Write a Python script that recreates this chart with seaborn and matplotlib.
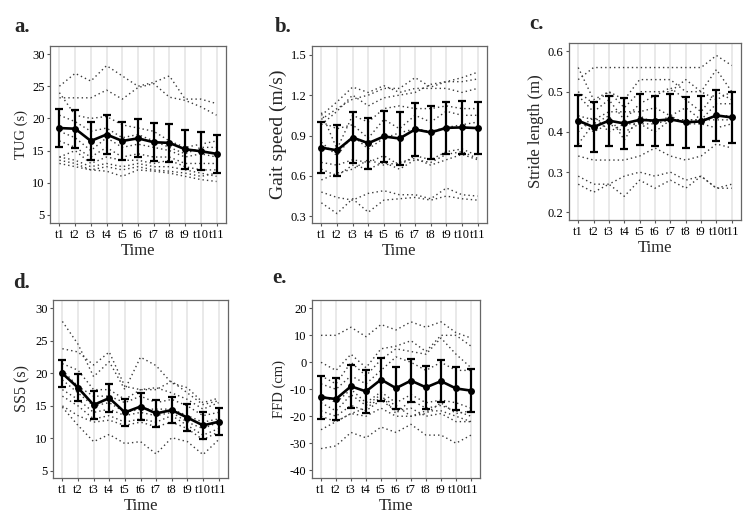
import pandas as pd
import matplotlib.pyplot as plt
import seaborn as sns

time_labels = ['t1', 't2', 't3', 't4', 't5', 't6', 't7', 't8', 't9', 't10', 't11']

# a. TUG (s)
tug_subjects = [
    [25.0, 27.0, 25.8, 28.2, 26.6, 25.0, 25.6, 26.6, 23.0, 23.0, 22.3],
    [23.2, 23.2, 23.2, 24.4, 23.0, 24.8, 25.4, 23.3, 22.8, 21.8, 20.5],
    [24.0, 20.5, 20.0, 20.3, 19.0, 18.5, 18.0, 16.5, 15.5, 16.0, 16.5],
    [20.5, 19.5, 18.0, 18.5, 17.0, 17.5, 16.5, 15.5, 14.5, 15.5, 15.5],
    [18.0, 17.0, 15.0, 17.0, 15.5, 16.0, 15.5, 15.0, 14.0, 14.5, 14.0],
    [16.5, 15.5, 14.0, 15.5, 14.0, 14.5, 14.0, 14.0, 13.0, 13.0, 13.0],
    [14.0, 15.0, 13.0, 14.0, 13.5, 13.5, 13.0, 13.5, 12.5, 12.0, 12.0],
    [14.0, 13.5, 12.5, 13.0, 12.5, 13.0, 12.5, 12.5, 12.0, 11.5, 11.0],
    [13.5, 13.0, 12.0, 12.5, 12.0, 12.5, 12.0, 11.8, 11.5, 11.0, 11.5],
    [13.0, 12.5, 12.0, 11.8, 11.0, 12.0, 11.8, 11.5, 11.0, 10.5, 10.2],
]
tug_mean = [18.5, 18.4, 16.5, 17.5, 16.5, 16.9, 16.3, 16.2, 15.2, 14.9, 14.5]
tug_sd = [3.0, 2.95, 3.0, 3.0, 2.95, 2.95, 2.95, 3.0, 3.0, 2.95, 2.95]

# b. Gait speed (m/s)
gait_subjects = [
    [1.02, 1.10, 1.17, 1.20, 1.25, 1.25, 1.33, 1.26, 1.30, 1.33, 1.37],
    [1.05, 1.15, 1.26, 1.22, 1.27, 1.22, 1.25, 1.25, 1.25, 1.22, 1.25],
    [0.98, 1.08, 1.20, 1.12, 1.18, 1.20, 1.22, 1.28, 1.30, 1.30, 1.32],
    [1.07, 0.80, 1.05, 1.00, 1.10, 1.12, 1.10, 1.10, 1.12, 1.10, 1.10],
    [1.00, 0.95, 0.98, 0.88, 1.02, 0.95, 1.05, 1.00, 1.08, 1.05, 1.05],
    [0.85, 0.75, 0.90, 0.80, 0.88, 0.92, 0.95, 0.93, 0.96, 0.98, 1.00],
    [0.70, 0.68, 0.72, 0.70, 0.75, 0.68, 0.75, 0.72, 0.78, 0.80, 0.75],
    [0.65, 0.60, 0.68, 0.65, 0.70, 0.65, 0.72, 0.70, 0.76, 0.78, 0.73],
    [0.57, 0.62, 0.65, 0.72, 0.68, 0.70, 0.73, 0.68, 0.72, 0.76, 0.72],
    [0.48, 0.44, 0.42, 0.47, 0.49, 0.46, 0.46, 0.43, 0.51, 0.46, 0.45],
    [0.40, 0.32, 0.43, 0.33, 0.42, 0.43, 0.44, 0.42, 0.45, 0.43, 0.42],
]
gait_mean = [0.81, 0.79, 0.885, 0.843, 0.893, 0.878, 0.945, 0.923, 0.957, 0.96, 0.955]
gait_sd = [0.19, 0.19, 0.19, 0.19, 0.19, 0.195, 0.195, 0.195, 0.195, 0.195, 0.195]

# c. Stride length (m)
stride_subjects = [
    [0.53, 0.56, 0.56, 0.56, 0.56, 0.56, 0.56, 0.56, 0.56, 0.59, 0.565],
    [0.56, 0.48, 0.50, 0.48, 0.53, 0.53, 0.53, 0.50, 0.50, 0.555, 0.50],
    [0.50, 0.47, 0.50, 0.46, 0.50, 0.50, 0.50, 0.53, 0.50, 0.48, 0.50],
    [0.49, 0.45, 0.48, 0.43, 0.47, 0.49, 0.51, 0.48, 0.45, 0.50, 0.48],
    [0.44, 0.43, 0.45, 0.45, 0.45, 0.46, 0.44, 0.46, 0.43, 0.47, 0.47],
    [0.43, 0.40, 0.42, 0.40, 0.42, 0.40, 0.43, 0.43, 0.43, 0.44, 0.44],
    [0.40, 0.44, 0.40, 0.42, 0.42, 0.42, 0.43, 0.43, 0.43, 0.43, 0.43],
    [0.37, 0.42, 0.44, 0.38, 0.44, 0.42, 0.44, 0.42, 0.42, 0.41, 0.42],
    [0.34, 0.33, 0.33, 0.33, 0.34, 0.36, 0.34, 0.33, 0.34, 0.37, 0.36],
    [0.29, 0.27, 0.27, 0.29, 0.30, 0.29, 0.30, 0.28, 0.29, 0.26, 0.27],
    [0.27, 0.25, 0.27, 0.24, 0.28, 0.26, 0.28, 0.26, 0.29, 0.26, 0.26],
]
stride_mean = [0.428, 0.412, 0.428, 0.421, 0.430, 0.428, 0.431, 0.424, 0.426, 0.441, 0.436]
stride_sd = [0.063, 0.063, 0.062, 0.063, 0.063, 0.062, 0.063, 0.063, 0.063, 0.063, 0.063]

# d. SS5 (s)
ss5_subjects = [
    [28.0, 24.5, 19.5, 21.8, 17.5, 22.5, 21.2, 18.5, 17.8, 15.5, 16.2],
    [23.8, 23.3, 21.3, 23.3, 18.0, 17.5, 17.5, 18.8, 17.0, 15.2, 15.8],
    [21.5, 20.5, 17.5, 17.5, 16.0, 17.5, 17.8, 17.0, 16.0, 14.5, 15.5],
    [20.5, 18.0, 16.5, 16.5, 15.5, 16.5, 15.5, 16.0, 15.0, 13.5, 14.0],
    [19.0, 17.0, 15.0, 15.5, 14.0, 14.5, 14.5, 14.5, 13.5, 12.5, 13.0],
    [17.5, 16.0, 14.0, 14.5, 13.5, 14.0, 13.5, 14.0, 12.5, 11.5, 12.5],
    [16.5, 15.0, 13.0, 13.5, 12.5, 13.0, 12.5, 13.5, 12.0, 10.5, 11.5],
    [15.0, 13.5, 12.5, 12.8, 12.0, 12.5, 11.8, 12.5, 11.5, 9.8, 11.0],
    [14.8, 12.0, 9.5, 10.6, 9.2, 9.5, 7.6, 10.1, 9.5, 7.5, 9.8],
]
ss5_mean = [20.0, 17.8, 15.15, 16.2, 14.0, 14.9, 13.85, 14.35, 13.2, 12.0, 12.55]
ss5_sd = [2.1, 2.05, 2.1, 2.1, 2.1, 2.05, 2.1, 2.05, 2.05, 2.05, 2.1]

# e. FFD (cm)
ffd_subjects = [
    [10, 10, 13, 9.5, 14, 12, 15, 13, 15, 11, 9],
    [0, -3, 3, -2, 5, 6, 8, 4, 10, 10, 6],
    [-5, -8, 0, -5, 1, 5, 4, 3, 9, 3, -2],
    [-8, -10, -5, -8, -3, 2, 0, -3, 0, -3, -3],
    [-12, -15, -10, -15, -11, -15, -12, -15, -14, -15, -17],
    [-15, -18, -12, -16, -12, -19, -14, -17, -16, -18, -20],
    [-18, -20, -16, -18, -14, -18, -17, -20, -19, -22, -22],
    [-20, -22, -19, -17, -13, -16, -20, -19, -15, -19, -18],
    [-25, -22, -19, -20, -17, -20, -20, -18, -18, -20, -22],
    [-32, -31, -26, -28, -24, -26, -23, -27, -27, -30, -27],
]
ffd_mean = [-13.0, -13.6, -8.9, -10.8, -6.4, -9.6, -6.8, -9.3, -7.0, -9.7, -10.5]
ffd_sd = [7.9, 7.9, 7.9, 7.9, 7.9, 7.9, 7.9, 7.9, 7.9, 7.9, 7.9]

sns.set_theme(style='white')
plt.rcParams['font.family'] = ['Liberation Serif', 'DejaVu Serif']

W, H = 750, 526
fig = plt.figure(figsize=(W / 100, H / 100), dpi=100)


def px_rect(left, right, top, bottom):
    return [left / W, 1 - bottom / H, (right - left) / W, (bottom - top) / H]


# tag, y label, y label size, data, axes box, y range, y ticks, tag position
panels = [
    ('a.', 'TUG (s)', 10.5, tug_subjects, tug_mean, tug_sd, px_rect(50, 226, 46, 223),
     (3.75, 31.25), [5, 10, 15, 20, 25, 30], ['5', '10', '15', '20', '25', '30'], (22, 27)),
    ('b.', 'Gait speed (m/s)', 14, gait_subjects, gait_mean, gait_sd, px_rect(312, 487, 46, 223),
     (0.25, 1.565), [0.3, 0.6, 0.9, 1.2, 1.5], ['0.3', '0.6', '0.9', '1.2', '1.5'], (283, 27)),
    ('c.', 'Stride length (m)', 12, stride_subjects, stride_mean, stride_sd, px_rect(569, 741, 43, 220),
     (0.181, 0.621), [0.2, 0.3, 0.4, 0.5, 0.6], ['0.2', '0.3', '0.4', '0.5', '0.6'], (536, 24)),
    ('d.', 'SS5 (s)', 11.5, ss5_subjects, ss5_mean, ss5_sd, px_rect(53, 228, 300, 478),
     (3.9, 31.3), [5, 10, 15, 20, 25, 30], ['5', '10', '15', '20', '25', '30'], (22, 283)),
    ('e.', 'FFD (cm)', 10.5, ffd_subjects, ffd_mean, ffd_sd, px_rect(312, 480, 300, 478),
     (-42.9, 23.1), [-40, -30, -20, -10, 0, 10, 20], ['-40', '-30', '-20', '-10', '0', '10', '20'], (279, 278)),
]

positions = list(range(len(time_labels)))

for tag, ylabel, ysize, subjects, mean, sd, rect, ylim, yticks, yticklabels, tagpos in panels:
    ax = fig.add_axes(rect)
    rows = []
    for sid, values in enumerate(subjects):
        for pos, v in zip(positions, values):
            rows.append({'subject': sid, 'pos': pos, 'value': v})
    df = pd.DataFrame(rows)

    for p in positions:
        ax.axvline(p, color='#e3e3e3', linewidth=1.1, zorder=0)

    sns.lineplot(data=df, x='pos', y='value', units='subject', estimator=None,
                 color='#3a3a3a', linewidth=1.0, linestyle=(0, (1, 2.2)), ax=ax, zorder=2)
    ax.errorbar(positions, mean, yerr=sd, fmt='none', ecolor='black',
                elinewidth=1.6, capsize=2.8, capthick=1.6, zorder=3)
    sns.lineplot(x=positions, y=mean, color='black', linewidth=1.9, marker='o',
                 markersize=5, markeredgewidth=0, ax=ax, zorder=4)

    ax.set_xlim(-0.6, 10.6)
    ax.set_ylim(*ylim)
    ax.set_xticks(positions)
    ax.set_xticklabels(time_labels)
    ax.set_yticks(yticks)
    ax.set_yticklabels(yticklabels)
    ax.set_xlabel('Time', fontsize=12)
    ax.set_ylabel(ylabel, fontsize=ysize)
    ax.tick_params(axis='both', labelsize=9, length=2.5, width=0.8, color='#555555',
                   direction='out', bottom=True, left=True, pad=1.5, labelcolor='black')
    ax.xaxis.labelpad = 2
    ax.yaxis.labelpad = 3
    for spine in ax.spines.values():
        spine.set_color('#666666')
        spine.set_linewidth(0.9)
    fig.text(tagpos[0] / W, 1 - tagpos[1] / H, tag, fontsize=15, fontweight='bold',
             ha='center', va='center')

fig.savefig('out.png', dpi=100)
